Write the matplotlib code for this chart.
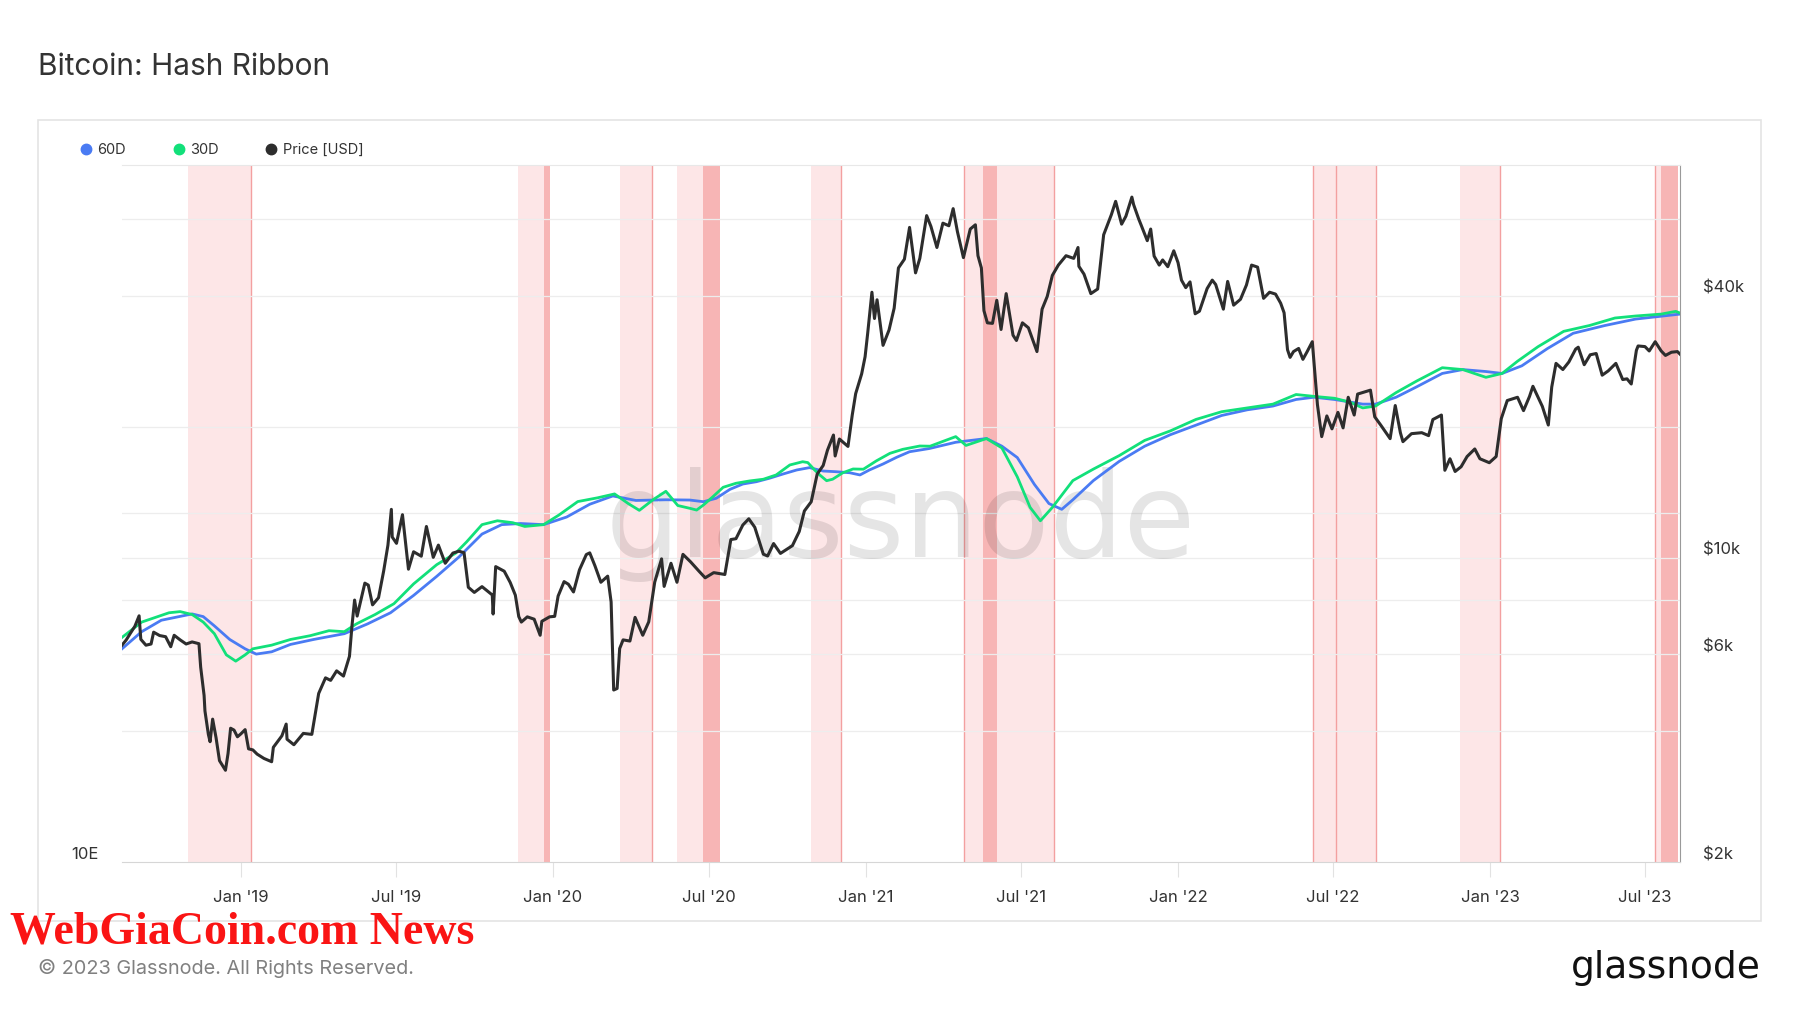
import numpy as np
import matplotlib
matplotlib.use("Agg")
import matplotlib.pyplot as plt
from matplotlib.lines import Line2D
from matplotlib.patches import Rectangle
from matplotlib.ticker import NullLocator
from matplotlib.transforms import ScaledTranslation, blended_transform_factory

plt.rcParams['font.family'] = ['Inter', 'DejaVu Sans']

# --- data ---------------------------------------------------------------
price_dates = [
    '2018-08-15', '2018-08-20', '2018-08-25', '2018-08-30', '2018-09-04', '2018-09-06',
    '2018-09-12', '2018-09-18', '2018-09-21', '2018-09-28', '2018-10-05', '2018-10-11',
    '2018-10-15', '2018-10-22', '2018-10-29', '2018-11-05', '2018-11-13', '2018-11-15',
    '2018-11-19', '2018-11-20', '2018-11-24', '2018-11-26', '2018-11-29', '2018-12-03',
    '2018-12-07', '2018-12-14', '2018-12-17', '2018-12-20', '2018-12-24', '2018-12-28',
    '2019-01-01', '2019-01-06', '2019-01-10', '2019-01-15', '2019-01-20', '2019-01-28',
    '2019-02-06', '2019-02-08', '2019-02-18', '2019-02-23', '2019-02-24', '2019-03-04',
    '2019-03-15', '2019-03-25', '2019-04-02', '2019-04-10', '2019-04-16', '2019-04-23',
    '2019-05-01', '2019-05-08', '2019-05-11', '2019-05-14', '2019-05-17', '2019-05-26',
    '2019-05-30', '2019-06-04', '2019-06-11', '2019-06-17', '2019-06-22', '2019-06-26',
    '2019-06-27', '2019-07-02', '2019-07-09', '2019-07-16', '2019-07-22', '2019-07-31',
    '2019-08-06', '2019-08-14', '2019-08-20', '2019-08-28', '2019-09-06', '2019-09-13',
    '2019-09-19', '2019-09-24', '2019-10-01', '2019-10-10', '2019-10-22', '2019-10-23',
    '2019-10-26', '2019-11-05', '2019-11-12', '2019-11-18', '2019-11-22', '2019-11-25',
    '2019-12-02', '2019-12-10', '2019-12-17', '2019-12-19', '2019-12-28',
    '2020-01-03', '2020-01-07', '2020-01-14', '2020-01-19', '2020-01-25', '2020-02-01',
    '2020-02-09', '2020-02-13', '2020-02-19', '2020-02-26', '2020-03-05', '2020-03-09',
    '2020-03-12', '2020-03-16', '2020-03-19', '2020-03-23', '2020-03-31', '2020-04-06',
    '2020-04-15', '2020-04-22', '2020-04-29', '2020-05-07', '2020-05-10', '2020-05-18',
    '2020-05-25', '2020-06-01', '2020-06-10', '2020-06-20', '2020-06-27', '2020-07-07',
    '2020-07-20', '2020-07-27', '2020-08-02', '2020-08-10', '2020-08-17', '2020-08-24',
    '2020-09-03', '2020-09-08', '2020-09-15', '2020-09-23', '2020-10-07', '2020-10-15',
    '2020-10-21', '2020-10-29', '2020-11-05', '2020-11-12', '2020-11-17', '2020-11-24',
    '2020-11-26', '2020-12-01', '2020-12-11', '2020-12-16', '2020-12-20', '2020-12-27',
    '2020-12-31',
    '2021-01-03', '2021-01-08', '2021-01-11', '2021-01-14', '2021-01-21', '2021-01-28',
    '2021-02-03', '2021-02-08', '2021-02-15', '2021-02-21', '2021-02-28', '2021-03-05',
    '2021-03-13', '2021-03-18', '2021-03-25', '2021-04-01', '2021-04-08', '2021-04-13',
    '2021-04-18', '2021-04-25', '2021-05-03', '2021-05-09', '2021-05-12', '2021-05-16',
    '2021-05-19', '2021-05-23', '2021-05-29', '2021-06-03', '2021-06-08', '2021-06-14',
    '2021-06-22', '2021-06-26', '2021-07-03', '2021-07-10', '2021-07-20', '2021-07-26',
    '2021-08-01', '2021-08-07', '2021-08-14', '2021-08-23', '2021-09-01', '2021-09-06',
    '2021-09-07', '2021-09-13', '2021-09-21', '2021-09-29', '2021-10-06', '2021-10-15',
    '2021-10-20', '2021-10-27', '2021-11-01', '2021-11-08', '2021-11-10', '2021-11-16',
    '2021-11-19', '2021-11-26', '2021-11-30', '2021-12-04', '2021-12-10', '2021-12-14',
    '2021-12-20', '2021-12-27',
    '2022-01-01', '2022-01-05', '2022-01-10', '2022-01-15', '2022-01-21', '2022-01-26',
    '2022-02-04', '2022-02-10', '2022-02-14', '2022-02-23', '2022-02-28', '2022-03-07',
    '2022-03-15', '2022-03-22', '2022-03-28', '2022-04-04', '2022-04-11', '2022-04-18',
    '2022-04-25', '2022-05-01', '2022-05-05', '2022-05-09', '2022-05-12', '2022-05-16',
    '2022-05-22', '2022-05-27', '2022-06-01', '2022-06-07', '2022-06-13', '2022-06-18',
    '2022-06-24', '2022-06-30', '2022-07-07', '2022-07-13', '2022-07-19', '2022-07-26',
    '2022-07-30', '2022-08-14', '2022-08-19', '2022-08-26', '2022-09-06', '2022-09-12',
    '2022-09-18', '2022-09-21', '2022-10-01', '2022-10-13', '2022-10-21', '2022-10-26',
    '2022-11-05', '2022-11-09', '2022-11-15', '2022-11-21', '2022-11-28', '2022-12-05',
    '2022-12-14', '2022-12-20', '2022-12-31',
    '2023-01-08', '2023-01-14', '2023-01-21', '2023-02-02', '2023-02-09', '2023-02-16',
    '2023-02-20', '2023-03-03', '2023-03-10', '2023-03-14', '2023-03-19', '2023-03-27',
    '2023-04-03', '2023-04-11', '2023-04-14', '2023-04-21', '2023-04-28', '2023-05-05',
    '2023-05-12', '2023-05-19', '2023-05-28', '2023-06-05', '2023-06-10', '2023-06-15',
    '2023-06-21', '2023-06-23', '2023-07-01', '2023-07-06', '2023-07-13', '2023-07-20',
    '2023-07-25', '2023-08-01', '2023-08-08', '2023-08-11',
]
price_usd = [
    6300, 6480, 6720, 6960, 7360, 6500,
    6300, 6340, 6750, 6630, 6590, 6250,
    6640, 6480, 6340, 6410, 6350, 5610,
    4830, 4450, 3930, 3780, 4260, 3860,
    3420, 3250, 3550, 4060, 4020, 3880,
    3940, 4030, 3640, 3620, 3540, 3460,
    3400, 3670, 3900, 4150, 3830, 3720,
    3950, 3930, 4880, 5300, 5230, 5500,
    5350, 5940, 7000, 8000, 7350, 8750,
    8660, 7800, 8100, 9330, 10700, 12930,
    11170, 10800, 12570, 9420, 10330, 10090,
    11810, 10030, 10700, 9720, 10260, 10360,
    10280, 8560, 8330, 8590, 8220, 7430,
    9550, 9320, 8780, 8210, 7330, 7120,
    7320, 7230, 6640, 7150, 7320,
    7340, 8170, 8820, 8700, 8350, 9390,
    10180, 10270, 9600, 8790, 9080, 7920,
    4970, 5010, 6190, 6480, 6440, 7300,
    6640, 7130, 8800, 9950, 8600, 9720,
    8790, 10190, 9790, 9310, 9000, 9250,
    9160, 11020, 11070, 11900, 12300, 11760,
    10200, 10100, 10790, 10240, 10670, 11500,
    12820, 13460, 15590, 16310, 17680, 19160,
    17150, 18760, 18040, 21310, 23860, 26490,
    29000,
    32780, 40800, 35500, 39200, 30800, 33400,
    37500, 46400, 48600, 57500, 45200, 48800,
    61200, 57800, 51700, 58800, 58000, 63500,
    56200, 49000, 57000, 58300, 49500, 46400,
    37000, 34700, 34600, 39100, 33500, 40500,
    32500, 31600, 34700, 33800, 29800, 37300,
    39900, 44600, 47100, 49500, 48800, 51700,
    46800, 44900, 40500, 41500, 55300, 61500,
    66000, 58500, 61000, 67500, 64900, 60100,
    58100, 53600, 57000, 49400, 47100, 48400,
    46700, 50800,
    47700, 43500, 41800, 43100, 36400, 36900,
    41600, 43500, 42500, 37300, 43200, 38100,
    39300, 42400, 47100, 46600, 39500, 40800,
    40400, 38500, 36600, 30100, 28900, 29800,
    30300, 28600, 29800, 31400, 22500, 19000,
    21200, 19800, 21600, 19900, 23400, 21300,
    23800, 24300, 21100, 20200, 18800, 22400,
    19400, 18500, 19300, 19400, 19100, 20800,
    21300, 15900, 16900, 15800, 16200, 17100,
    17800, 16900, 16550,
    17100, 20900, 23000, 23400, 21800, 23500,
    24800, 22300, 20200, 24700, 28000, 27100,
    28200, 30200, 30500, 27800, 29300, 29500,
    26300, 26900, 28000, 25700, 25800, 25100,
    30000, 30700, 30600, 29900, 31400, 29900,
    29200, 29700, 29800, 29400,
]

# hash rate moving averages [EH/s]
h60_dates = [
    '2018-08-15', '2018-09-07', '2018-09-30', '2018-11-05', '2018-11-18', '2018-12-01',
    '2018-12-19', '2019-01-06', '2019-01-19', '2019-02-06', '2019-02-28', '2019-03-27',
    '2019-05-02', '2019-05-29', '2019-06-25', '2019-07-22', '2019-08-18', '2019-09-13',
    '2019-10-10', '2019-11-02', '2019-11-24', '2019-12-21', '2020-01-17', '2020-02-13',
    '2020-03-11', '2020-04-07', '2020-05-12', '2020-06-09', '2020-06-25', '2020-07-10',
    '2020-07-26', '2020-08-10', '2020-08-26', '2020-09-10', '2020-09-26', '2020-10-12',
    '2020-10-27', '2020-11-12', '2020-11-27', '2020-12-13', '2020-12-25', '2021-01-05',
    '2021-01-21', '2021-02-06', '2021-02-21', '2021-03-16', '2021-04-16', '2021-05-22',
    '2021-06-09', '2021-06-27', '2021-07-17', '2021-08-03', '2021-08-18', '2021-08-31',
    '2021-09-24', '2021-10-24', '2021-11-23', '2021-12-23', '2022-01-22', '2022-02-21',
    '2022-03-23', '2022-04-22', '2022-05-19', '2022-06-09', '2022-07-03', '2022-08-05',
    '2022-08-20', '2022-09-13', '2022-10-07', '2022-11-06', '2022-11-30', '2022-12-27',
    '2023-01-15', '2023-02-07', '2023-03-09', '2023-04-08', '2023-05-15', '2023-06-20',
    '2023-08-11',
]
h60_ehs = [
    40.9, 45.8, 49.4, 51.5, 50.6, 47.6,
    43.5, 40.9, 39.5, 40.1, 42.1, 43.5,
    45.2, 48.2, 51.9, 58.2, 66.0, 75.0,
    87.3, 92.9, 93.6, 92.9, 97.7, 106.3,
    112.3, 109.0, 109.5, 109.3, 108.1, 110.6,
    117.3, 121.5, 123.4, 126.2, 129.8, 133.3,
    135.4, 132.4, 131.8, 130.9, 129.0, 133.3,
    138.7, 145.0, 150.4, 153.6, 160.1, 164.1,
    156.0, 144.7, 121.2, 106.8, 102.8, 109.5,
    124.3, 141.0, 156.0, 168.3, 179.3, 191.1,
    198.4, 203.4, 212.4, 215.6, 212.4, 206.0,
    206.0, 215.6, 230.9, 252.3, 258.8, 255.5,
    252.3, 265.3, 297.4, 328.9, 346.2, 361.3,
    373.4,
]
h30_dates = [
    '2018-08-15', '2018-09-07', '2018-10-09', '2018-10-22', '2018-11-05', '2018-11-18',
    '2018-12-01', '2018-12-15', '2018-12-26', '2019-01-06', '2019-01-15', '2019-02-06',
    '2019-02-28', '2019-03-23', '2019-04-14', '2019-05-02', '2019-05-16', '2019-06-07',
    '2019-06-29', '2019-07-22', '2019-08-18', '2019-09-09', '2019-09-22', '2019-10-10',
    '2019-10-28', '2019-11-15', '2019-11-29', '2019-12-21', '2020-01-08', '2020-01-30',
    '2020-02-22', '2020-03-13', '2020-03-29', '2020-04-11', '2020-04-27', '2020-05-12',
    '2020-05-26', '2020-06-09', '2020-06-17', '2020-06-25', '2020-07-06', '2020-07-18',
    '2020-08-02', '2020-08-18', '2020-09-03', '2020-09-18', '2020-10-04', '2020-10-19',
    '2020-10-25', '2020-11-02', '2020-11-08', '2020-11-16', '2020-11-23', '2020-12-05',
    '2020-12-17', '2020-12-29', '2021-01-13', '2021-01-29', '2021-02-13', '2021-03-05',
    '2021-03-17', '2021-04-16', '2021-04-28', '2021-05-22', '2021-06-09', '2021-06-27',
    '2021-07-12', '2021-07-24', '2021-08-07', '2021-08-31', '2021-09-24', '2021-10-24',
    '2021-11-23', '2021-12-23', '2022-01-22', '2022-02-21', '2022-03-23', '2022-04-22',
    '2022-05-19', '2022-06-09', '2022-07-03', '2022-07-21', '2022-08-05', '2022-08-20',
    '2022-09-13', '2022-10-07', '2022-11-06', '2022-11-30', '2022-12-27', '2023-01-15',
    '2023-02-02', '2023-02-26', '2023-03-28', '2023-04-27', '2023-05-27', '2023-06-20',
    '2023-07-20', '2023-08-06', '2023-08-11',
]
h30_ehs = [
    44.1, 48.8, 51.9, 52.3, 51.3, 48.8,
    45.2, 39.3, 37.7, 39.3, 40.9, 41.9,
    43.5, 44.6, 46.1, 45.8, 48.2, 51.3,
    55.1, 62.8, 71.3, 76.9, 82.9, 92.9,
    95.3, 94.1, 91.8, 92.9, 99.0, 108.2,
    110.9, 113.8, 106.8, 102.1, 109.5, 115.8,
    105.4, 103.5, 102.3, 105.8, 111.7, 118.9,
    122.1, 124.0, 125.4, 129.0, 137.8, 140.8,
    140.0, 133.3, 129.0, 124.2, 125.4, 130.9,
    134.2, 134.0, 141.5, 148.8, 152.8, 156.2,
    156.0, 166.2, 156.8, 164.1, 154.2, 127.4,
    104.1, 95.3, 104.1, 124.3, 134.1, 146.5,
    162.1, 172.6, 186.2, 195.9, 200.9, 206.0,
    219.5, 216.8, 214.1, 208.7, 200.9, 203.4,
    222.3, 239.9, 262.0, 258.8, 245.9, 252.3,
    273.5, 301.1, 333.2, 346.2, 363.9, 368.7,
    373.4, 380.2, 376.0,
]

# capitulation (light) and recovery (dark) periods
light_bands = [
    ('2018-10-31', '2019-01-13'), ('2019-11-21', '2019-12-22'), ('2020-03-19', '2020-04-26'),
    ('2020-05-25', '2020-06-24'), ('2020-10-29', '2020-12-03'), ('2021-04-26', '2021-05-18'),
    ('2021-06-03', '2021-08-09'), ('2022-06-08', '2022-08-20'), ('2022-11-27', '2023-01-13'),
    ('2023-07-13', '2023-07-20'),
]
dark_bands = [
    ('2019-12-22', '2019-12-29'), ('2020-06-24', '2020-07-14'), ('2021-05-18', '2021-06-03'),
    ('2023-07-20', '2023-08-09'),
]
signal_dates = [
    '2019-01-13', '2020-04-26', '2020-12-03', '2021-04-26', '2021-08-09',
    '2022-06-08', '2022-07-05', '2022-08-20', '2023-01-13', '2023-07-13',
]

x_tick_dates = ['2019-01-01', '2019-07-01', '2020-01-01', '2020-07-01', '2021-01-01',
                '2021-07-01', '2022-01-01', '2022-07-01', '2023-01-01', '2023-07-01']
x_tick_labels = ["Jan '19", "Jul '19", "Jan '20", "Jul '20", "Jan '21",
                 "Jul '21", "Jan '22", "Jul '22", "Jan '23", "Jul '23"]
price_ticks = [2000, 6000, 10000, 40000]
price_tick_labels = ['$2k', '$6k', '$10k', '$40k']
price_grid = [4000, 6000, 8000, 10000, 20000, 40000, 60000]
hash_grid = [100]

series_names = ['60D', '30D', 'Price [USD]']
series_colors = ['#4a7bf3', '#12e07a', '#2d2d2d']


def d(v):
    return np.array(v, dtype='datetime64[D]')


# --- figure ---------------------------------------------------------------
W, H = 1800, 1013
fig = plt.figure(figsize=(W / 100, H / 100), dpi=100)
fig.add_artist(Rectangle((38 / W, 1 - 921 / H), (1761 - 38) / W, (921 - 120) / H,
                         transform=fig.transFigure, fill=False, edgecolor='#e4e4e4', lw=1.2))

ax = fig.add_axes([122 / W, 1 - 862 / H, 1558 / W, 697 / H])
ax_p = ax.twinx()

for s, e in light_bands:
    ax.axvspan(d(s), d(e), color='#fde6e7', lw=0, zorder=0.5)
for s, e in dark_bands:
    ax.axvspan(d(s), d(e), color='#f7b5b5', lw=0, zorder=0.5)
for s in signal_dates:
    ax.axvline(d(s), color='#f3a0a0', lw=1.0, zorder=0.6)

grid_trans = blended_transform_factory(ax.transAxes, ax_p.transData)
for lvl in price_grid:
    ax.add_artist(Line2D([0, 1], [lvl, lvl], transform=grid_trans,
                         color='#ededed', lw=0.9, zorder=0.7))
for lvl in hash_grid:
    ax.axhline(lvl, color='#ededed', lw=0.9, zorder=0.7)

ax.text(0.4997, 0.4376, 'glassnode', transform=ax.transAxes, ha='center', va='baseline',
        fontsize=84, family='DejaVu Sans', color='black', alpha=0.1, zorder=1)

ax.plot(d(h60_dates), h60_ehs, color=series_colors[0], lw=2.0, zorder=2)
ax.plot(d(h30_dates), h30_ehs, color=series_colors[1], lw=2.0, zorder=2.1)
ax_p.plot(d(price_dates), price_usd, color=series_colors[2], lw=2.2, zorder=3)

ax.set_xlim(d('2018-08-15'), d('2023-08-11'))
ax.set_xticks(d(x_tick_dates))
ax.set_xticklabels(x_tick_labels)
ax.tick_params(axis='x', length=11, width=0.8, color='#e2e2e2', pad=9.5,
               labelsize=12, labelcolor='#333333')

ax.set_yscale('log')
ax.set_ylim(10, 1000)
ax.set_yticks([10])
ax.set_yticklabels(['10E'])
ax.yaxis.set_minor_locator(NullLocator())
ax.tick_params(axis='y', length=0, pad=16.5, labelsize=12, labelcolor='#333333')

ax_p.set_yscale('log')
ax_p.set_ylim(2000, 80000)
ax_p.set_yticks(price_ticks)
ax_p.set_yticklabels(price_tick_labels)
ax_p.yaxis.set_minor_locator(NullLocator())
ax_p.tick_params(axis='y', length=0, pad=16.5, labelsize=12, labelcolor='#333333')

shift = ScaledTranslation(0, 0.09, fig.dpi_scale_trans)
for lab in ax.get_yticklabels() + ax_p.get_yticklabels():
    lab.set_transform(lab.get_transform() + shift)

ax.spines['left'].set_visible(False)
ax.spines['bottom'].set_color('#d6d6d6')
ax.spines['top'].set_color('#e8e8e8')
ax.spines['right'].set_color('#9a9a9a')
for sp in ax_p.spines.values():
    sp.set_visible(False)

handles = [Line2D([], [], marker='o', ls='', color=c, markersize=7.5) for c in series_colors]
ax_p.legend(handles, series_names, loc='center left', bbox_to_anchor=(80 / W, 1 - 150 / H),
            bbox_transform=fig.transFigure, ncol=3, frameon=False, handlelength=0.8,
            handletextpad=0.4, columnspacing=3.2, borderpad=0, borderaxespad=0,
            fontsize=10.5, labelcolor='#333333')

fig.text(38 / W, 1 - 67 / H, 'Bitcoin: Hash Ribbon', va='center', fontsize=21.5,
         color='#333333')
fig.text(38 / W, 1 - 968 / H, '© 2023 Glassnode. All Rights Reserved.', va='center',
         fontsize=14.3, color='#808080')
fig.text(10 / W, 1 - 943 / H, 'WebGiaCoin.com News', va='baseline', fontsize=33,
         family='Liberation Serif', fontweight='bold', color='#fa1414')
fig.text(1761 / W, 1 - 978 / H, 'glassnode', ha='right', va='baseline', fontsize=27,
         family='DejaVu Sans', color='#111111')

fig.savefig('out.png', dpi=100)
